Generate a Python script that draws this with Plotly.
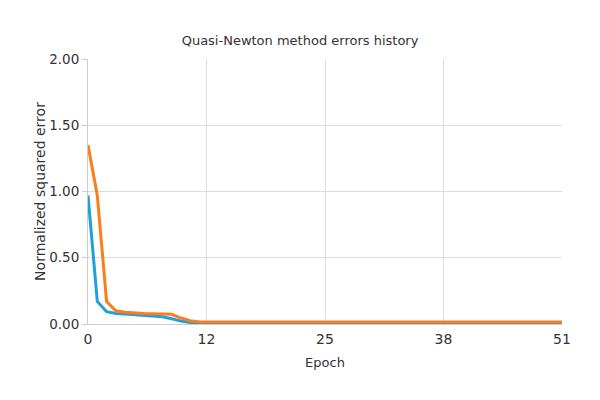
import plotly.graph_objects as go

epochs = list(range(52))
blue_head = [0.97, 0.17, 0.093, 0.08, 0.075, 0.07, 0.066, 0.062, 0.055, 0.04, 0.022, 0.012]
orange_head = [1.35, 0.97, 0.17, 0.10, 0.088, 0.082, 0.08, 0.078, 0.076, 0.073, 0.045, 0.025, 0.016]
blue_errors = blue_head + [0.012] * (52 - len(blue_head))
orange_errors = orange_head + [0.016] * (52 - len(orange_head))

x_tickvals = [0, 12.75, 25.5, 38.25, 51]
x_ticktext = ["0", "12", "25", "38", "51"]
y_tickvals = [0, 0.5, 1.0, 1.5, 2.0]
y_ticktext = ["0.00", "0.50", "1.00", "1.50", "2.00"]

fig = go.Figure()
fig.add_trace(go.Scatter(x=epochs, y=blue_errors, mode="lines",
                         line=dict(color="#1f9fde", width=3), showlegend=False))
fig.add_trace(go.Scatter(x=epochs, y=orange_errors, mode="lines",
                         line=dict(color="#fb7d1c", width=3), showlegend=False))

font_family = "DejaVu Sans, Verdana, sans-serif"
fig.update_layout(
    width=600, height=400,
    margin=dict(l=80, r=46, t=51, b=84),
    paper_bgcolor="white", plot_bgcolor="white",
    title=dict(text="Quasi-Newton method errors history", x=0.4867, xanchor="center",
               y=0.918, yanchor="middle",
               font=dict(family=font_family, size=13, color="#333333")),
    font=dict(family=font_family, color="#333333"),
)
fig.update_xaxes(range=[0, 51], tickvals=x_tickvals, ticktext=x_ticktext,
                 showgrid=True, gridcolor="#dddddd", gridwidth=1,
                 showline=True, linecolor="#cccccc", linewidth=1,
                 zeroline=False, ticks="", tickfont=dict(size=14, color="#333333"),
                 ticklabelstandoff=2,
                 title=dict(text="Epoch", font=dict(size=13, color="#333333"), standoff=12))
fig.update_yaxes(range=[0, 2], tickvals=y_tickvals, ticktext=y_ticktext,
                 showgrid=True, gridcolor="#dddddd", gridwidth=1,
                 showline=True, linecolor="#cccccc", linewidth=1,
                 zeroline=False, ticks="outside", ticklen=5, tickcolor="#cccccc",
                 tickfont=dict(size=13.5, color="#333333"),
                 title=dict(text="Normalized squared error", font=dict(size=14, color="#333333"), standoff=0))

fig.write_html("out.html")
